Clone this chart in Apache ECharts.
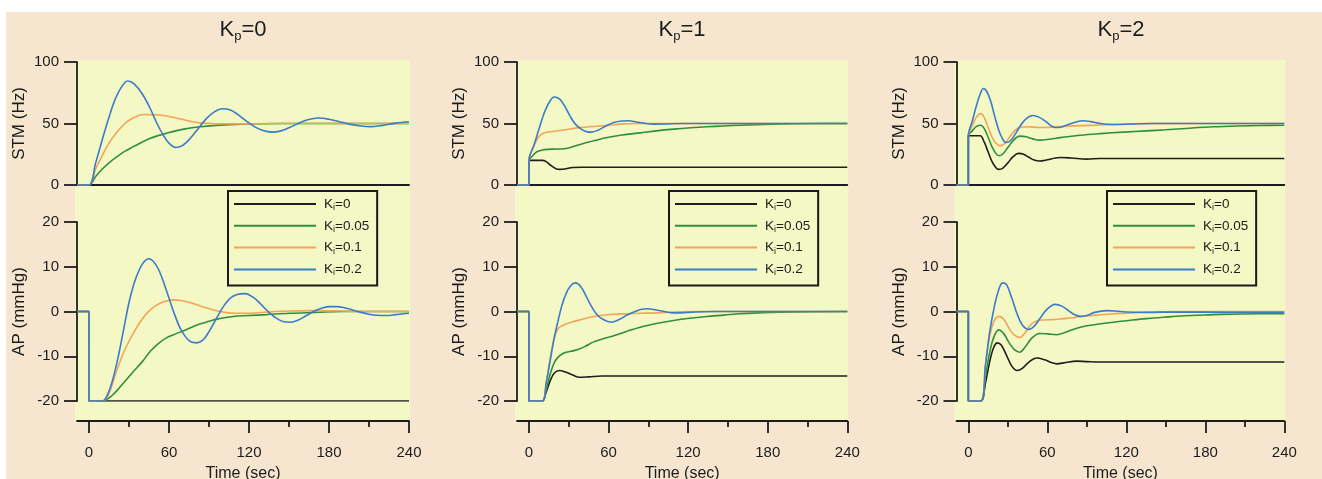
<!DOCTYPE html>
<html>
<head>
<meta charset="utf-8">
<script src="https://cdn.jsdelivr.net/npm/echarts@6/dist/echarts.min.js"></script>
<style>
html,body{margin:0;padding:0;background:#fff;}
#chart{width:1322px;height:479px;}
</style>
</head>
<body>
<div id="chart"></div>
<script>
// ---------------- DATA ----------------
const panelKp = ['0', '1', '2'];
const kiNames = ['Ki=0', 'Ki=0.05', 'Ki=0.1', 'Ki=0.2'];
const xTicks = [0, 60, 120, 180, 240];
const xMinorTicks = [30, 90, 150, 210];
const stmTicksInterval = 50;
const apTicksInterval = 10;

// Kp = 0, STM (Hz)  [time s, value]
const stm_kp0_ki0 = [[-9,0],[240,0]];
const stm_kp0_ki005 = [[-9,0],[0,0],[5,7],[10,13],[15,18],[21,23],[27,27.5],[33,31],[40,35],[46,38],[52,40.2],[58,42],[65,44],[71,45.4],[83,47.3],[95,48.5],[110,49.3],[130,49.8],[160,50],[240,50]];
const stm_kp0_ki01 = [[-9,0],[0,0],[5,13],[10,24],[15,34],[21,43],[27,50],[33,54.5],[41,57.3],[50,57],[56,56.5],[65,54.5],[75,52],[83,50.5],[95,49.8],[110,49.7],[140,50],[240,50]];
const stm_kp0_ki02 = [[-9,0],[0,0],[5,18],[10,37],[15,55],[19,68],[24,79],[29,84.5],[34,82],[40,74],[46,62],[51,50],[56,40],[60,34],[65,30.5],[70,32],[76,38],[82,46],[88,54],[94,59.5],[100,62],[106,61],[112,57],[118,52],[124,47.5],[130,44.5],[137,43],[144,44],[150,46.5],[157,50],[164,53],[172,54.5],[180,53.5],[188,51.5],[196,49.3],[204,48],[211,47.5],[220,48.5],[230,50.3],[240,51.4]];

// Kp = 0, AP (mmHg)
const ap_kp0_ki0 = [[-9,0],[0,0],[0,-20],[240,-20]];
const ap_kp0_ki005 = [[-9,0],[0,0],[0,-20],[10,-20],[14,-19.5],[18,-18.6],[22,-17.3],[27,-15.6],[33,-13.5],[40,-11.2],[46,-8.9],[52,-7.2],[58,-5.9],[65,-5],[71,-4.3],[77,-3.5],[83,-2.8],[90,-2.2],[96,-1.7],[108,-1.1],[120,-0.9],[133,-0.7],[150,-0.4],[170,-0.2],[190,0],[240,0]];
const ap_kp0_ki01 = [[-9,0],[0,0],[0,-20],[10,-20],[15,-18.3],[21,-13],[27,-8.5],[33,-5],[38,-2.5],[44,-0.2],[50,1.3],[56,2.2],[63,2.6],[70,2.4],[78,1.8],[86,1.0],[94,0.3],[102,-0.2],[110,-0.4],[120,-0.4],[135,-0.1],[150,0.1],[170,0.2],[190,0.1],[210,0],[240,0]];
const ap_kp0_ki02 = [[-9,0],[0,0],[0,-20],[10,-20],[14,-18.5],[18,-15],[22,-10],[26,-4],[30,2],[34,6.5],[38,9.5],[41,11],[44.5,11.8],[48,11.3],[52,9.5],[56,6.5],[60,3],[64,-0.5],[68,-3.5],[72,-5.5],[76,-6.7],[81,-7],[86,-6.2],[91,-4],[96,-1.3],[101,1.2],[106,3],[111,3.8],[117,4],[123,3.2],[129,1.6],[135,-0.2],[141,-1.6],[146,-2.3],[151,-2.4],[157,-1.9],[163,-0.9],[169,0.1],[175,0.8],[181,1.1],[186,1.1],[192,0.8],[198,0.3],[204,-0.2],[210,-0.6],[216,-0.85],[223,-0.9],[230,-0.7],[236,-0.5],[240,-0.4]];

// Kp = 1, STM (Hz)
const stm_kp1_ki0 = [[-9,0],[0,0],[0,20],[10,20],[13,19],[17,15.5],[20,13.5],[23,12.7],[27,13],[33,14.2],[40,14.4],[240,14.4]];
const stm_kp1_ki005 = [[-9,0],[0,0],[0,20],[3,24],[6,27],[10,28.4],[14,29],[18,29.2],[24,29.3],[28,29.7],[34,31.5],[41,33.8],[50,36.3],[59,38.6],[70,40.6],[84,42.4],[96,44],[109,45.4],[122,46.5],[134,47.3],[147,48],[159,48.6],[172,49.1],[184,49.5],[200,49.8],[220,50],[240,50]];
const stm_kp1_ki01 = [[-9,0],[0,0],[0,20],[3,30],[6,37],[9,41],[12,42.5],[18,43.5],[25,44.5],[33,46],[42,47],[51,47.8],[60,48.6],[71,49.7],[85,50],[240,50]];
const stm_kp1_ki02 = [[-9,0],[0,0],[0,20],[4,33],[8,47],[12,60],[16,68.5],[19,71.6],[23,70],[27,64],[31,56],[35,49.5],[40,45],[44,43.2],[47,43],[52,44.5],[58,48],[64,50.8],[70,52],[75,52.2],[81,51.2],[88,50],[94,49.5],[102,49.6],[115,50],[240,50]];

// Kp = 1, AP (mmHg)
const ap_kp1_ki0 = [[-9,0],[0,0],[0,-20],[10,-20],[13,-18],[16,-15.5],[19,-13.8],[23,-13.2],[28,-13.6],[33,-14.2],[38,-14.7],[45,-14.6],[55,-14.4],[240,-14.4]];
const ap_kp1_ki005 = [[-9,0],[0,0],[0,-20],[10,-20],[13,-17.5],[16,-14],[19,-11.5],[22,-10.2],[25,-9.5],[28,-9.1],[33,-8.8],[38,-8.4],[43,-7.7],[48,-6.9],[56,-6.1],[64,-5.4],[74,-4.4],[84,-3.5],[96,-2.7],[109,-2.0],[121,-1.5],[134,-1.1],[147,-0.8],[159,-0.5],[172,-0.3],[184,-0.2],[200,-0.1],[240,0]];
const ap_kp1_ki01 = [[-9,0],[0,0],[0,-20],[10,-20],[13,-16],[16,-10.5],[19,-6],[22,-3.8],[25,-3.2],[28,-2.8],[33,-2.3],[38,-1.9],[46,-1.3],[54,-0.9],[64,-0.6],[74,-0.5],[85,-0.4],[96,-0.3],[110,-0.1],[130,0],[240,0]];
const ap_kp1_ki02 = [[-9,0],[0,0],[0,-20],[10,-20],[13,-16],[16,-11],[19,-6],[22,-2],[25,1.5],[28,4],[31,5.6],[35,6.4],[39,5.6],[43,3.5],[47,1.2],[51,-0.6],[56,-1.8],[62,-2.4],[68,-1.8],[74,-0.8],[80,0],[85,0.5],[89,0.6],[95,0.4],[102,0],[108,-0.3],[114,-0.3],[125,-0.1],[140,0],[240,0]];

// Kp = 2, STM (Hz)
const stm_kp2_ki0 = [[-9,0],[0,0],[0,40],[9,40],[12,35],[15,27],[18,19],[21,14],[23,12.7],[26,13.5],[30,18],[34,23],[38,25.7],[42,25],[46,22.5],[50,20.3],[54,19.5],[60,20.5],[66,22],[70,22.4],[78,22],[90,21],[100,21.6],[240,21.6]];
const stm_kp2_ki005 = [[-9,0],[0,0],[0,40],[3,44],[6,47.5],[9.4,48.6],[12,46],[15,39],[18,31],[21,25.5],[23,23.8],[26,25],[30,30.5],[34,36],[39,39.7],[44,39.2],[49,37.5],[54,36.5],[60,37],[70,38.5],[85,40.5],[100,41.8],[118,43],[135,44],[150,44.9],[168,46.2],[186,47.3],[205,48],[222,48.4],[240,48.6]];
const stm_kp2_ki01 = [[-9,0],[0,0],[0,40],[3,48],[6,55],[9.4,58],[12,55],[15,47],[18,39],[21,34],[24,32],[28,34],[32,40],[36,45],[39,46.8],[45,47.3],[54,46.8],[64,47],[75,47.8],[86,48.3],[97,48.6],[115,49.4],[135,50],[240,50]];
const stm_kp2_ki02 = [[-9,0],[0,0],[0,40],[3,52],[6,64],[9,74],[11.4,78.4],[14,76],[17,68],[20,56],[23,45],[26,37.5],[28.6,34.6],[32,36],[36,42],[40,49],[44,54],[49,56.5],[54,55],[59,51.5],[63,48],[66,46.8],[70,47],[75,48.8],[81,51],[87,52.2],[93,51.5],[100,50],[110,49.2],[125,49.6],[140,50],[240,50]];

// Kp = 2, AP (mmHg)
const ap_kp2_ki0 = [[-9,0],[0,0],[0,-20],[9.4,-20],[13,-16],[16,-11.5],[19,-8.2],[22,-7],[25,-7.5],[29,-9.8],[33,-12.2],[37,-13.2],[41,-12.7],[46,-11.3],[52,-10.4],[58,-10.8],[63,-11.4],[67,-11.7],[74,-11.4],[82,-11.1],[90,-11.2],[100,-11.3],[240,-11.3]];
const ap_kp2_ki005 = [[-9,0],[0,0],[0,-20],[9.4,-20],[13,-14.5],[16,-9.5],[19,-6],[23,-4.1],[27,-5],[31,-7],[35,-8.5],[39,-9.1],[43,-8],[48,-6],[54,-4.9],[60,-5],[67,-5.2],[75,-4.5],[85,-3.5],[97,-2.9],[110,-2.4],[122,-2],[135,-1.6],[148,-1.3],[161,-1.0],[174,-0.85],[186,-0.7],[200,-0.6],[220,-0.5],[240,-0.5]];
const ap_kp2_ki01 = [[-9,0],[0,0],[0,-20],[9.4,-20],[13,-12],[16,-6],[19,-2.5],[23,-1.1],[27,-1.8],[31,-3.8],[35,-5.3],[39,-5.8],[43,-4.8],[48,-2.8],[53,-2],[57,-1.9],[65,-1.8],[72,-1.6],[79,-1.4],[85,-1.1],[97,-0.8],[110,-0.5],[125,-0.3],[140,-0.1],[160,0],[240,0]];
const ap_kp2_ki02 = [[-9,0],[0,0],[0,-20],[9.4,-20],[13,-12],[16,-5],[19,0],[22,3.8],[26,6.4],[29,6],[33,3],[37,-0.5],[41,-3],[46,-4],[50,-3.3],[55,-1.3],[60,0.6],[66,1.6],[71,1.2],[76,0.2],[80,-0.6],[85,-1.1],[90,-0.9],[96,-0.2],[105,0.2],[112,0.1],[120,-0.1],[135,-0.2],[160,-0.1],[200,-0.2],[240,-0.2]];

// ---------------- BUILD ----------------
const stmData = [
  [stm_kp0_ki0, stm_kp0_ki005, stm_kp0_ki01, stm_kp0_ki02],
  [stm_kp1_ki0, stm_kp1_ki005, stm_kp1_ki01, stm_kp1_ki02],
  [stm_kp2_ki0, stm_kp2_ki005, stm_kp2_ki01, stm_kp2_ki02]
];
const apData = [
  [ap_kp0_ki0, ap_kp0_ki005, ap_kp0_ki01, ap_kp0_ki02],
  [ap_kp1_ki0, ap_kp1_ki005, ap_kp1_ki01, ap_kp1_ki02],
  [ap_kp2_ki0, ap_kp2_ki005, ap_kp2_ki01, ap_kp2_ki02]
];

const lineColors = ['#1e1e1e', '#2f8f3c', '#f4a455', '#3b7bcb'];
const FONT = '"Liberation Sans", Arial, Helvetica, sans-serif';
const INK = '#1c1c1c';
const gridLeft = [77, 517, 956.5];
const gridWidth = [332, 330.3, 327.8];
const titleCenter = [243, 682, 1121];
const legendLeft = [228, 669, 1107];

const axisLineStyle = { color: INK, width: 1.8 };
const grids = [], xAxes = [], yAxes = [], series = [], titles = [], legends = [];
const graphics = [
  { type: 'rect', z: -10, shape: { x: 6, y: 12, width: 1316, height: 467 }, style: { fill: '#f6e6d0' } }
];

for (let p = 0; p < 3; p++) {
  const L = gridLeft[p], W = gridWidth[p];
  graphics.push({ type: 'rect', z: -9, shape: { x: L - 2, y: 60, width: W + 3, height: 361 }, style: { fill: '#f3f8c4' } });

  grids.push({ left: L, top: 62, width: W, height: 123, outerBoundsMode: 'none', containLabel: false });
  grids.push({ left: L, top: 222, width: W, height: 179, outerBoundsMode: 'none', containLabel: false });
  const gS = 2 * p, gA = 2 * p + 1;

  // STM x axis (line only)
  xAxes.push({
    gridIndex: gS, type: 'value', position: 'bottom', min: -9, max: 240,
    axisLine: { show: true, onZero: false, lineStyle: axisLineStyle },
    axisTick: { show: false }, axisLabel: { show: false }, splitLine: { show: false }
  });
  // AP x axis (major ticks + labels)
  xAxes.push({
    gridIndex: gA, type: 'value', position: 'bottom', min: -9, max: 240, offset: 20,
    axisLine: { show: true, onZero: false, lineStyle: axisLineStyle },
    axisTick: { show: true, customValues: xTicks, length: 12, lineStyle: { color: INK, width: 1.8 } },
    axisLabel: { show: true, customValues: xTicks, fontSize: 15, color: INK, fontFamily: FONT, margin: 24 },
    splitLine: { show: false },
    name: 'Time (sec)', nameLocation: 'middle', nameGap: 45,
    nameTextStyle: { fontSize: 16, color: INK, fontFamily: FONT }
  });
  // AP x axis minor ticks
  xAxes.push({
    gridIndex: gA, type: 'value', position: 'bottom', min: -9, max: 240, offset: 20,
    axisLine: { show: false, onZero: false },
    axisTick: { show: true, customValues: xMinorTicks, length: 6, lineStyle: { color: INK, width: 1.8 } },
    axisLabel: { show: false }, splitLine: { show: false }
  });

  const yCommon = {
    type: 'value', position: 'left',
    axisLine: { show: true, onZero: false, lineStyle: axisLineStyle },
    axisTick: { show: true, length: 13, lineStyle: { color: INK, width: 1.8 } },
    axisLabel: { fontSize: 15, color: INK, fontFamily: FONT, margin: 18 },
    splitLine: { show: false },
    nameLocation: 'middle', nameGap: 49,
    nameTextStyle: { fontSize: 17, color: INK, fontFamily: FONT }
  };
  yAxes.push(Object.assign({}, yCommon, { gridIndex: gS, min: 0, max: 100, interval: stmTicksInterval, name: 'STM (Hz)' }));
  yAxes.push(Object.assign({}, yCommon, { gridIndex: gA, min: -20, max: 20, interval: apTicksInterval, name: 'AP (mmHg)' }));

  for (let k = 0; k < 4; k++) {
    const base = {
      type: 'line', name: kiNames[k], showSymbol: false, symbol: 'none', smooth: 0.35,
      lineStyle: { color: lineColors[k], width: 1.6 }, itemStyle: { color: lineColors[k] },
      z: 2 + k, animation: false
    };
    series.push(Object.assign({}, base, { xAxisIndex: 3 * p, yAxisIndex: gS, data: stmData[p][k] }));
    series.push(Object.assign({}, base, { xAxisIndex: 3 * p + 1, yAxisIndex: gA, data: apData[p][k] }));
  }

  titles.push({
    text: '{a|K}{b|p}{a|=' + panelKp[p] + '}',
    left: titleCenter[p], top: 17, textAlign: 'center', padding: 0,
    textStyle: {
      fontWeight: 'normal',
      rich: {
        a: { fontSize: 22, lineHeight: 26, color: INK, fontFamily: FONT, fontWeight: 'normal' },
        b: { fontSize: 13, lineHeight: 13, padding: [13, 0, 0, 0], verticalAlign: 'top', color: INK, fontFamily: FONT, fontWeight: 'normal' }
      }
    }
  });

  legends.push({
    data: kiNames, orient: 'vertical', left: legendLeft[p], top: 191,
    itemWidth: 82, itemHeight: 14, itemGap: 6.8,
    padding: [6, 8, 8, 5],
    borderColor: '#1a1a1a', borderWidth: 2, borderRadius: 0, backgroundColor: '#f3f8c4',
    selectedMode: false,
    itemStyle: { color: 'transparent', borderColor: 'transparent', borderWidth: 0, opacity: 0 },
    formatter: function (n) { return '{k|K}{i|i}{k|' + n.slice(2) + '}'; },
    textStyle: {
      padding: [0, 0, 0, 3],
      rich: {
        k: { fontSize: 13.5, lineHeight: 14, color: INK, fontFamily: FONT },
        i: { fontSize: 9, lineHeight: 9, padding: [6, 0, 0, 0], verticalAlign: 'top', color: INK, fontFamily: FONT }
      }
    }
  });
}

const chart = echarts.init(document.getElementById('chart'), null, { renderer: 'canvas' });
chart.setOption({
  animation: false,
  backgroundColor: '#ffffff',
  title: titles,
  legend: legends,
  grid: grids,
  xAxis: xAxes,
  yAxis: yAxes,
  series: series,
  graphic: { elements: graphics }
});
</script>
</body>
</html>
